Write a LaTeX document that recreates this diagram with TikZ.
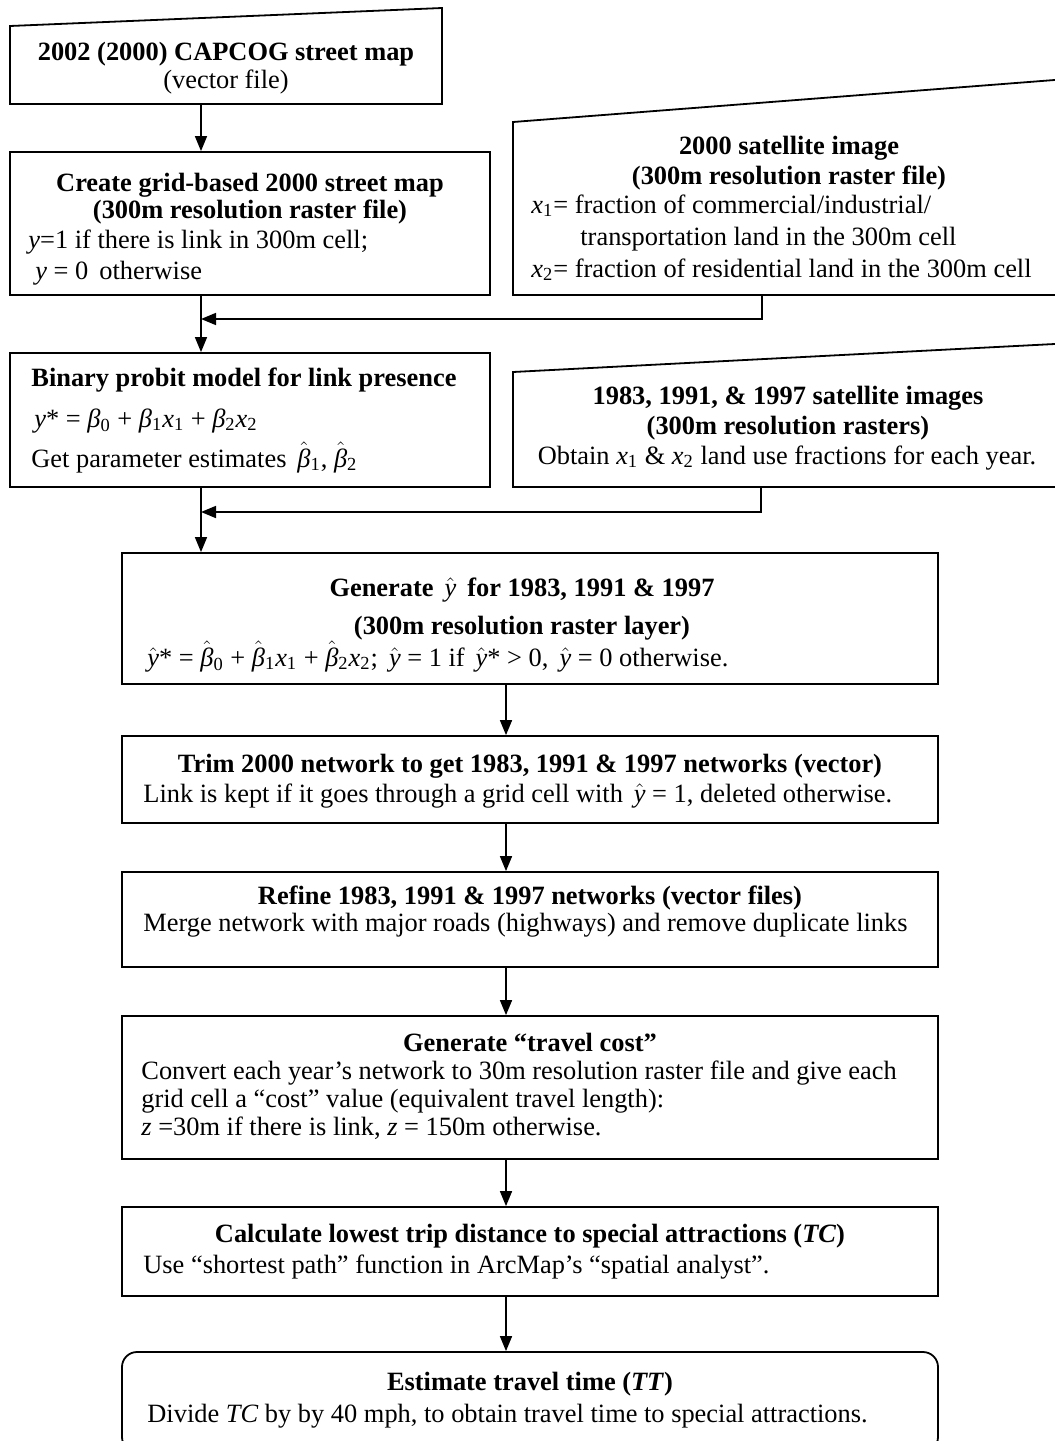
\documentclass[tikz,border=0pt]{standalone}
\usepackage{fontspec}
\setmainfont{Liberation Serif}
\usetikzlibrary{arrows.meta,fit,calc}
\newcommand{\iv}[1]{\textit{#1}}
\newcommand{\sbx}[1]{\textsubscript{#1}}
\newcommand{\hv}[1]{\ensuremath{\hat{\mbox{\mdseries\itshape #1}}}}
\begin{document}
\begin{tikzpicture}[x=0.5pt,y=-0.5pt,
  font=\fontsize{13.2}{15.8}\selectfont,
  boxline/.style={draw, line width=0.9pt, line join=miter},
  box/.style={draw, line width=0.9pt, inner sep=0pt},
  ghost/.style={inner sep=0pt},
  txt/.style={inner sep=0pt, anchor=base},
  txtl/.style={inner sep=0pt, anchor=base west},
  arr/.style={draw, line width=0.8pt, -{Triangle[length=7.5pt,width=6pt]}}]
\useasboundingbox (0,0) rectangle (1055,1441);
\clip (0,0) rectangle (1055,1441);

% column coordinates
\coordinate (cL) at (201,0);
\coordinate (cR) at (506,0);
\coordinate (k3) at (762,0);
\coordinate (k5) at (761,0);
\coordinate (j1) at (201,319);
\coordinate (j2) at (201,512);

% Box 1 (manual input)
\node[ghost, fit={(10,8)(442,104)}] (b1) {};
\draw[boxline] (10,104) -- (10,26) -- (442,8) -- (442,104) -- cycle;
\node[txt] (t1a) at (226,60) {\bfseries 2002 (2000) CAPCOG street map};
\node[txt] (t1b) at (226,88) {(vector file)};

% Box 2
\node[box, fit={(10,152)(490,295)}] (b2) {};
\node[txt] (t2a) at (250,191) {\bfseries Create grid-based 2000 street map};
\node[txt] (t2b) at (250,218) {\bfseries (300m resolution raster file)};
\node[txtl] (t2c) at (28,248) {\iv{y}=1 if there is link in 300m cell;};
\node[txtl] (t2d) at (35,279) {\iv{y} = 0\, otherwise};

% Box 3 (manual input, cut at right)
\node[ghost, fit={(513,79)(1070,295)}] (b3) {};
\draw[boxline] (513,295) -- (513,122) -- (1070,78.8) -- (1070,295) -- cycle;
\node[txt] (t3a) at (789,154) {\bfseries 2000 satellite image};
\node[txt] (t3b) at (789,184) {\bfseries (300m resolution raster file)};
\node[txtl] (t3c) at (531,213) {\iv{x}\sbx{1}= fraction of commercial/industrial/};
\node[txtl] (t3d) at (580,245) {transportation land in the 300m cell};
\node[txtl] (t3e) at (531,277) {\iv{x}\sbx{2}= fraction of residential land in the 300m cell};

% Box 4
\node[box, fit={(10,353)(490,487)}] (b4) {};
\node[txtl] (t4a) at (31,386) {\bfseries Binary probit model for link presence};
\node[txtl] (t4b) at (34,427) {\iv{y}* = \iv{β}\sbx{0} + \iv{β}\sbx{1}\iv{x}\sbx{1} + \iv{β}\sbx{2}\iv{x}\sbx{2}};
\node[txtl] (t4c) at (31,467) {Get parameter estimates \,\hv{β}\sbx{1}, \hv{β}\sbx{2}};

% Box 5 (manual input, cut at right)
\node[ghost, fit={(513,343)(1070,487)}] (b5) {};
\draw[boxline] (513,487) -- (513,372) -- (1070,343.2) -- (1070,487) -- cycle;
\node[txt] (t5a) at (788,404) {\bfseries 1983, 1991, \& 1997 satellite images};
\node[txt] (t5b) at (788,434) {\bfseries (300m resolution rasters)};
\node[txt] (t5c) at (787,464) {Obtain \iv{x}\sbx{1} \& \iv{x}\sbx{2} land use fractions for each year.};

% Box 6
\node[box, fit={(122,553)(938,684)}] (b6) {};
\node[txt] (t6a) at (522,596) {\bfseries Generate \,\hv{y}\, for 1983, 1991 \& 1997};
\node[txt] (t6b) at (522,634) {\bfseries (300m resolution raster layer)};
\node[txtl] (t6c) at (147,666) {\hv{y}* = \hv{β}\sbx{0} + \hv{β}\sbx{1}\iv{x}\sbx{1} + \hv{β}\sbx{2}\iv{x}\sbx{2}; \,\hv{y} = 1 if \,\hv{y}* > 0, \,\hv{y} = 0 otherwise.};

% Box 7
\node[box, fit={(122,736)(938,823)}] (b7) {};
\node[txt] (t7a) at (530,772) {\bfseries Trim 2000 network to get 1983, 1991 \& 1997 networks (vector)};
\node[txtl] (t7b) at (143,802) {Link is kept if it goes through a grid cell with \,\hv{y} = 1, deleted otherwise.};

% Box 8
\node[box, fit={(122,872)(938,967)}] (b8) {};
\node[txt] (t8a) at (530,904) {\bfseries Refine 1983, 1991 \& 1997 networks (vector files)};
\node[txtl] (t8b) at (143,931) {Merge network with major roads (highways) and remove duplicate links};

% Box 9
\node[box, fit={(122,1016)(938,1159)}] (b9) {};
\node[txt] (t9a) at (530,1051) {\bfseries Generate “travel cost”};
\node[txtl] (t9b) at (141,1079) {Convert each year’s network to 30m resolution raster file and give each};
\node[txtl] (t9c) at (141,1107) {grid cell a “cost” value (equivalent travel length):};
\node[txtl] (t9d) at (141,1135) {\iv{z} =30m if there is link, \iv{z} = 150m otherwise.};

% Box 10
\node[box, fit={(122,1207)(938,1296)}] (b10) {};
\node[txt] (t10a) at (530,1242) {\bfseries Calculate lowest trip distance to special attractions (\textit{TC})};
\node[txtl] (t10b) at (143,1273) {Use “shortest path” function in ArcMap’s “spatial analyst”.};

% Box 11 (rounded, cut at bottom)
\node[box, rounded corners=7.5pt, fit={(122,1352)(938,1452)}] (b11) {};
\node[txt] (t11a) at (530,1390) {\bfseries Estimate travel time (\textit{TT})};
\node[txtl] (t11b) at (147,1422) {Divide \iv{TC} by by 40 mph, to obtain travel time to special attractions.};

% connectors
\draw[arr] (b1.south -| cL) -- (b2.north -| cL);
\draw[arr] (b2.south -| cL) -- (b4.north -| cL);
\draw[arr] (b3.south -| k3) |- (j1);
\draw[arr] (b4.south -| cL) -- (b6.north -| cL);
\draw[arr] (b5.south -| k5) |- (j2);
\draw[arr] (b6.south -| cR) -- (b7.north -| cR);
\draw[arr] (b7.south -| cR) -- (b8.north -| cR);
\draw[arr] (b8.south -| cR) -- (b9.north -| cR);
\draw[arr] (b9.south -| cR) -- (b10.north -| cR);
\draw[arr] (b10.south -| cR) -- (b11.north -| cR);
\end{tikzpicture}
\end{document}
